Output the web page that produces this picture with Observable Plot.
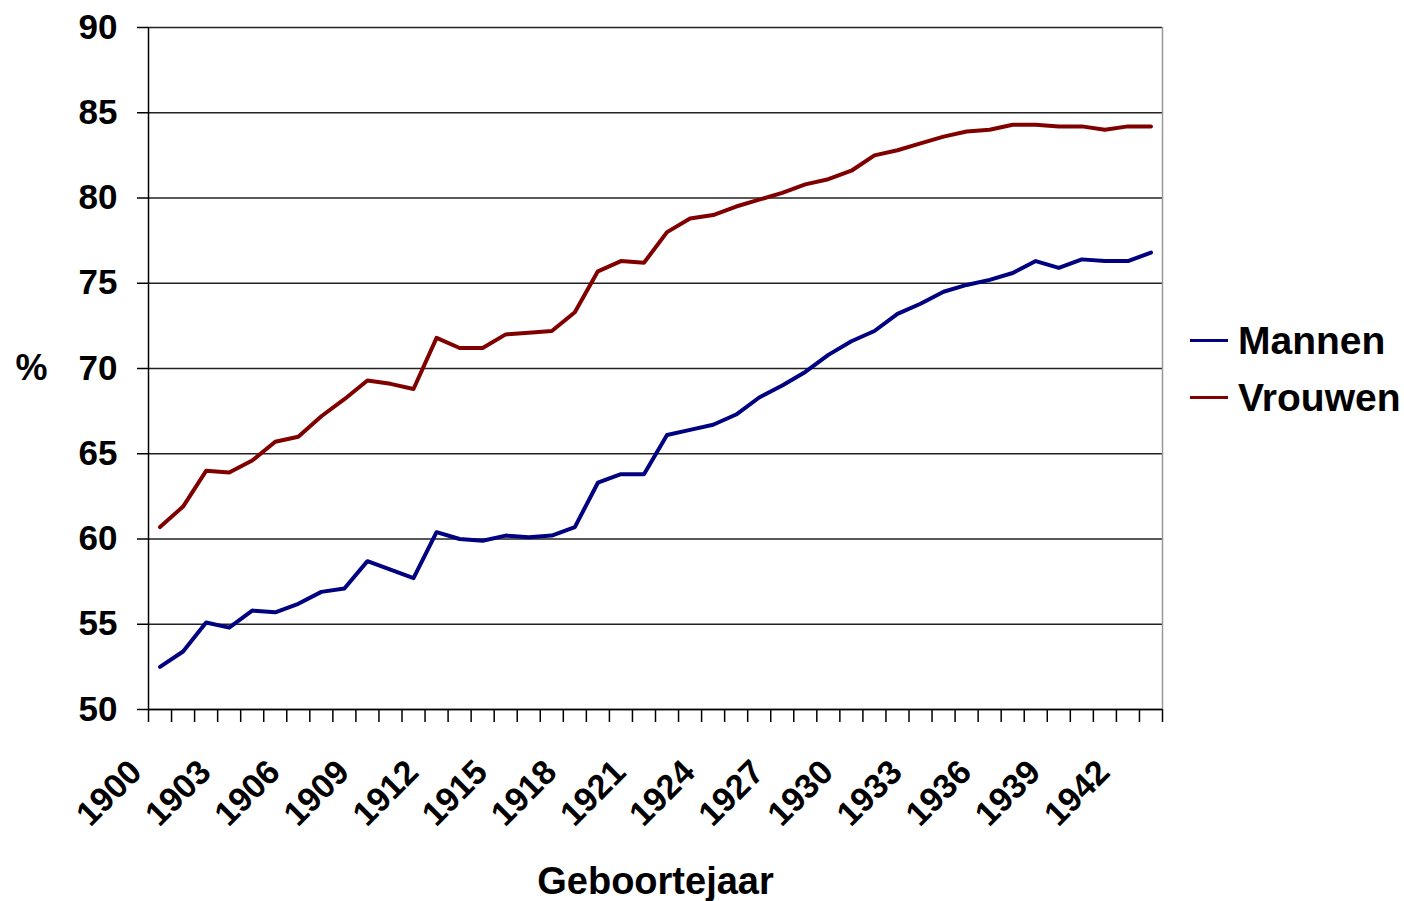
<!DOCTYPE html>
<html><head><meta charset="utf-8">
<script src="https://cdn.jsdelivr.net/npm/d3@7"></script>
<script src="https://cdn.jsdelivr.net/npm/@observablehq/plot@0.6"></script>
<style>
body{margin:0;background:#fff;font-family:"Liberation Sans",Arial,sans-serif;}
#wrap{position:relative;width:1404px;height:901px;}
.item{position:absolute;left:1190px;display:flex;align-items:center;font-weight:bold;font-size:39px;color:#000;line-height:1;}
.sw{width:38px;height:3px;margin-right:10px;}
</style></head><body><div id="wrap"></div><script>
const years = [1900,1901,1902,1903,1904,1905,1906,1907,1908,1909,1910,1911,1912,1913,1914,1915,1916,1917,1918,1919,1920,1921,1922,1923,1924,1925,1926,1927,1928,1929,1930,1931,1932,1933,1934,1935,1936,1937,1938,1939,1940,1941,1942,1943];
const mannen = [52.5,53.4,55.1,54.8,55.8,55.7,56.2,56.9,57.1,58.7,58.2,57.7,60.4,60.0,59.9,60.2,60.1,60.2,60.7,63.3,63.8,63.8,66.1,66.4,66.7,67.3,68.3,69.0,69.8,70.8,71.6,72.2,73.2,73.8,74.5,74.9,75.2,75.6,76.3,75.9,76.4,76.3,76.3,76.8];
const vrouwen = [60.7,61.9,64.0,63.9,64.6,65.7,66.0,67.2,68.2,69.3,69.1,68.8,71.8,71.2,71.2,72.0,72.1,72.2,73.3,75.7,76.3,76.2,78.0,78.8,79.0,79.5,79.9,80.3,80.8,81.1,81.6,82.5,82.8,83.2,83.6,83.9,84.0,84.3,84.3,84.2,84.2,84.0,84.2,84.2];
const seriesNames = ["Mannen","Vrouwen"];
const seriesColors = ["#000080","#800000"];
const tickLabelYears = [1900,1903,1906,1909,1912,1915,1918,1921,1924,1927,1930,1933,1936,1939,1942];
const yTicks = [50,55,60,65,70,75,80,85,90];
const xTitle = "Geboortejaar";
const yTitle = "%";

const rows = [];
years.forEach((yr,i)=>{
  rows.push({year:yr, value:mannen[i], series:seriesNames[0]});
  rows.push({year:yr, value:vrouwen[i], series:seriesNames[1]});
});
const boundaries = years.map(y=>y-0.5).concat([years[years.length-1]+0.5]);
const x0 = boundaries[0], x1 = boundaries[boundaries.length-1];

const chart = Plot.plot({
  width:1404, height:901,
  marginLeft:148, marginRight:242, marginTop:27, marginBottom:192,
  style:{fontFamily:"'Liberation Sans', Arial, sans-serif", background:"#fff", color:"#000"},
  x:{type:"linear", domain:[x0,x1], axis:null},
  y:{domain:[50,90], axis:null},
  color:{domain:seriesNames, range:seriesColors},
  marks:[
    Plot.ruleY(yTicks, {stroke:"#222", strokeWidth:1.5}),
    Plot.ruleX([x1], {stroke:"#999", strokeWidth:1.5}),
    Plot.ruleX([x0], {stroke:"#000", strokeWidth:1.5}),
    Plot.ruleY([50], {stroke:"#000", strokeWidth:1.5}),
    Plot.axisX(boundaries, {tickSize:13, tickFormat:()=>"", label:null, strokeWidth:1.5}),
    Plot.axisY(yTicks, {tickSize:11, tickPadding:20, fontSize:35, fontWeight:"bold", label:null, strokeWidth:1.5}),
    Plot.text(tickLabelYears, {x:d=>d, text:d=>String(d), frameAnchor:"bottom", rotate:-45, textAnchor:"end", lineAnchor:"middle", dx:-24, dy:57, fontSize:34, fontWeight:"bold", fill:"#000"}),
    Plot.text([xTitle], {frameAnchor:"bottom", textAnchor:"middle", lineAnchor:"middle", dy:172, fontSize:38, fontWeight:"bold", fill:"#000"}),
    Plot.text([yTitle], {frameAnchor:"left", textAnchor:"middle", lineAnchor:"middle", dx:-117, fontSize:36, fontWeight:"bold", fill:"#000"}),
    Plot.line(rows, {x:"year", y:"value", z:"series", stroke:"series", strokeWidth:4, strokeLinejoin:"round"})
  ]
});
const wrap = document.getElementById("wrap");
wrap.appendChild(chart);
const tops = [321, 378];
seriesNames.forEach((name,i)=>{
  const item = document.createElement("div");
  item.className = "item";
  item.style.top = tops[i]+"px";
  const sw = document.createElement("span");
  sw.className = "sw";
  sw.style.background = seriesColors[i];
  const t = document.createElement("span");
  t.textContent = name;
  item.appendChild(sw); item.appendChild(t);
  wrap.appendChild(item);
});
</script></body></html>
